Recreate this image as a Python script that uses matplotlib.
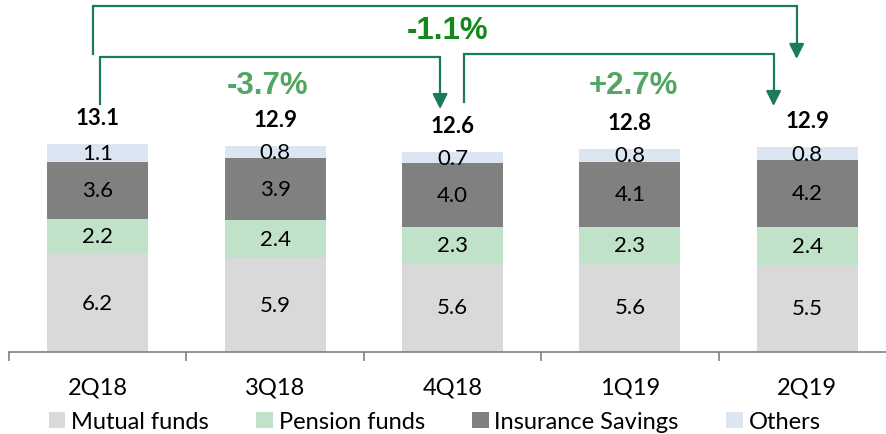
import matplotlib.pyplot as plt
import numpy as np
from matplotlib.patches import Patch

quarters = ["2Q18", "3Q18", "4Q18", "1Q19", "2Q19"]
mutual_funds = [6.2, 5.9, 5.6, 5.6, 5.5]
pension_funds = [2.2, 2.4, 2.3, 2.3, 2.4]
insurance_savings = [3.6, 3.9, 4.0, 4.1, 4.2]
others = [1.1, 0.8, 0.7, 0.8, 0.8]
totals = [13.1, 12.9, 12.6, 12.8, 12.9]

series_names = ["Mutual funds", "Pension funds", "Insurance Savings", "Others"]
series_colors = ["#d9d9d9", "#bfe2c9", "#808080", "#dce6f2"]

# (label, from bar, to bar) for the growth arrows
changes = [("-1.1%", 0, 4), ("-3.7%", 0, 2), ("+2.7%", 2, 4)]

plt.rcParams["font.family"] = ["Lato", "DejaVu Sans"]

fig = plt.figure(figsize=(8.87, 4.35), dpi=100)
ax = fig.add_axes([9 / 887, 0.189, 1.0, 0.811])

x = np.arange(len(quarters))
bottom = np.zeros(len(quarters))
for name, vals, color in zip(series_names, [mutual_funds, pension_funds, insurance_savings, others], series_colors):
    vals = np.array(vals)
    ax.bar(x, vals, width=0.57, bottom=bottom, color=color, label=name)
    for xi, b, v in zip(x, bottom, vals):
        ax.text(xi, b + v / 2, f"{v:.1f}", ha="center", va="center", fontsize=16, color="black")
    bottom += vals

for xi, t in zip(x, totals):
    ax.annotate(f"{t:.1f}", (xi, bottom[xi]), xytext=(0, 19), textcoords="offset points",
                ha="center", va="center", fontsize=16, fontweight="bold")

ax.set_xlim(-0.5, 4.5)
ax.set_ylim(0, 22.25)
ax.set_xticks(x)
ax.set_xticklabels(quarters, fontsize=17)
ax.set_xticks(np.arange(-0.5, 4.6, 1), minor=True)
ax.tick_params(axis="x", which="major", length=0, pad=18)
ax.tick_params(axis="x", which="minor", length=6.5, color="#808080", width=1.2)
ax.set_yticks([])
for side in ["top", "right", "left"]:
    ax.spines[side].set_visible(False)
ax.spines["bottom"].set_color("#808080")
ax.spines["bottom"].set_linewidth(1.2)

arrow_color = "#1b7a58"


def draw_bracket(x0, x1, y0, ytop, ytip):
    ax.plot([x0, x0, x1, x1], [y0, ytop, ytop, ytip + 0.9], color=arrow_color, lw=1.6,
            clip_on=False, solid_joinstyle="miter")
    ax.annotate("", xy=(x1, ytip), xytext=(x1, ytip + 1.0),
                arrowprops=dict(arrowstyle="-|>,head_length=0.9,head_width=0.45", color=arrow_color,
                                lw=1.6, shrinkA=0, shrinkB=0), annotation_clip=False)


pct_font = dict(family=["Liberation Sans", "DejaVu Sans"], fontsize=22.5, fontweight="bold")

# outer bracket 2Q18 -> 2Q19
lbl, a, b = changes[0]
draw_bracket(a - 0.025, b - 0.06, 18.78, 21.81, 18.47)
ax.text((a + b) / 2 - 0.03, 20.27, lbl, ha="center", va="center", color="#13881c",
        clip_on=False, **pct_font)

lbl, a, b = changes[1]
draw_bracket(a + 0.014, b - 0.07, 15.63, 18.59, 15.31)
ax.text((a + b) / 2 - 0.04, 16.83, lbl, ha="center", va="center", color="#52a662", **pct_font)

lbl, a, b = changes[2]
draw_bracket(a + 0.065, b - 0.19, 15.75, 18.78, 15.50)
ax.text((a + b) / 2 + 0.02, 16.83, lbl, ha="center", va="center", color="#52a662", **pct_font)

handles = [Patch(facecolor=c, edgecolor="none") for c in series_colors]
fig.legend(handles, series_names, loc="center", bbox_to_anchor=(0.49, 0.028), ncol=4,
           frameon=False, fontsize=17, handlelength=0.7, handleheight=0.7,
           handletextpad=0.25, columnspacing=2.0, borderaxespad=0, borderpad=0)

fig.savefig("out.png", dpi=100)
